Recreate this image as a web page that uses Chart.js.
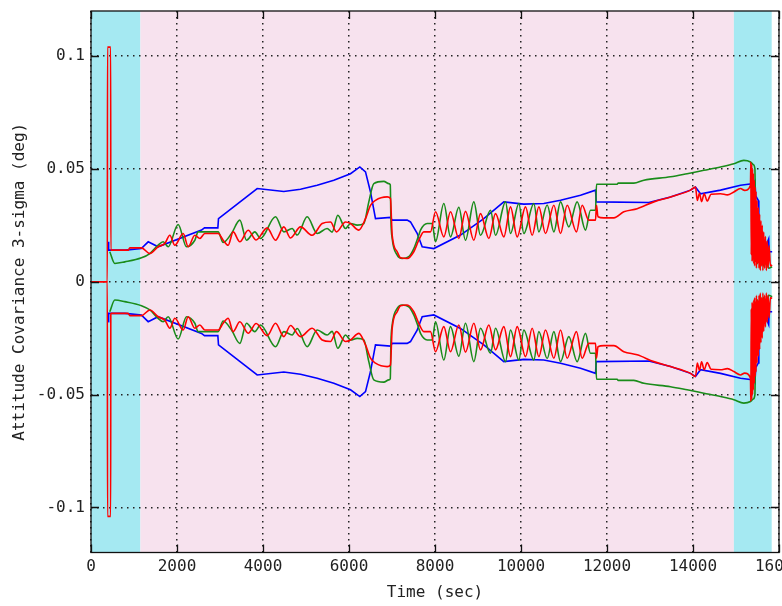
<!DOCTYPE html>
<html>
<head>
<meta charset="utf-8">
<title>Attitude Covariance 3-sigma</title>
<script src="https://cdn.jsdelivr.net/npm/chart.js@4.4.0/dist/chart.umd.min.js"></script>
<style>
  html, body { margin: 0; padding: 0; background: #fff; overflow: hidden; }
</style>
</head>
<body>
<canvas id="sigmaChart" width="782" height="606"></canvas>
<script>
// tick labels
const timeTicks = [0, 2000, 4000, 6000, 8000, 10000, 12000, 14000, 16000];
const sigmaTicks = [-0.1, -0.05, 0, 0.05, 0.1];

// mission phase shading (sec): cyan, pink, cyan
const phaseEdges = [0, 1150, 14950, 15830];
const phaseColors = ['#a5e9f2', '#f7e2ee', '#a5e9f2'];

// blue axis 3-sigma (deg), upper bound; lower bound is its mirror
const blueTime = [400, 410, 790, 1170, 1330, 1560, 2570, 2640, 2950, 2965, 3865, 4484, 4872, 5260, 5647, 6035, 6252, 6384, 6500, 6616, 6964, 7004, 7353, 7430, 7585, 7702, 7973, 8593, 9135, 9600, 10065, 10530, 10919, 11384, 11733, 11750, 12972, 13477, 13942, 14058, 14174, 14640, 15105, 15415, 15440, 15460, 15520, 15531, 15545, 15565, 15600, 15700, 15760, 15770, 15841];
const blueSigma = [0.0177, 0.014, 0.014, 0.0147, 0.0177, 0.0155, 0.0229, 0.0239, 0.0239, 0.028, 0.0413, 0.040, 0.041, 0.0428, 0.045, 0.0479, 0.0509, 0.0487, 0.0398, 0.028, 0.0285, 0.0273, 0.0273, 0.0265, 0.0215, 0.0155, 0.0147, 0.0207, 0.028, 0.0354, 0.0344, 0.0347, 0.0361, 0.0383, 0.0406, 0.0354, 0.0351, 0.0376, 0.0406, 0.042, 0.039, 0.0406, 0.0428, 0.0435, 0.0445, 0.038, 0.036, 0.028, 0.019, 0.024, 0.018, 0.016, 0.019, 0.0133, 0.0133];

// green axis
const greenTime = [437, 553, 786, 1174, 1368, 1562, 1678, 1795, 2027, 2221, 2415, 2492, 2957, 3074, 3268, 3461, 3616, 3810, 3942, 4291, 4484, 4678, 4795, 5027, 5260, 5492, 5607, 5740, 5919, 6035, 6190, 6345, 6461, 6577, 6810, 6926, 6960, 6975, 7004, 7121, 7237, 7392, 7507, 7623, 7663, 7818, 7934, 8012, 8205, 8360, 8554, 8709, 8903, 9058, 9291, 9407, 9640, 9756, 9950, 10066, 10298, 10415, 10609, 10764, 10919, 11112, 11306, 11500, 11616, 11733, 11756, 12237, 12260, 12624, 12857, 13477, 13864, 14252, 14640, 14950, 15181, 15337, 15400, 15440, 15460, 15480, 15500, 15530, 15560, 15600, 15640, 15700, 15760, 15841];
const greenSigma = [0.0133, 0.0081, 0.0088, 0.0106, 0.0125, 0.0162, 0.0177, 0.0155, 0.0254, 0.0155, 0.0184, 0.0221, 0.0221, 0.0174, 0.0214, 0.0273, 0.0184, 0.0221, 0.0192, 0.0288, 0.0221, 0.0236, 0.0207, 0.0288, 0.0214, 0.0236, 0.022, 0.0295, 0.0236, 0.0258, 0.0251, 0.0258, 0.0354, 0.0435, 0.0445, 0.0435, 0.043, 0.027, 0.0192, 0.0118, 0.0103, 0.0111, 0.0147, 0.0207, 0.0229, 0.0258, 0.0258, 0.0177, 0.0347, 0.0199, 0.033, 0.0184, 0.0354, 0.0206, 0.0317, 0.0206, 0.0354, 0.0214, 0.0347, 0.0214, 0.0347, 0.0221, 0.034, 0.0221, 0.0354, 0.0243, 0.0354, 0.0229, 0.0317, 0.0317, 0.0432, 0.0432, 0.0437, 0.0437, 0.045, 0.0465, 0.0479, 0.0494, 0.0509, 0.0523, 0.0538, 0.0531, 0.052, 0.050, 0.012, 0.025, 0.008, 0.018, 0.006, 0.012, 0.007, 0.010, 0.006, 0.0066];

// red axis
const redTime = [0, 380, 384, 457, 461, 864, 903, 1174, 1370, 1562, 1717, 1833, 1950, 2144, 2260, 2415, 2531, 2647, 2957, 3074, 3190, 3306, 3461, 3655, 3840, 4097, 4291, 4484, 4640, 4872, 5143, 5376, 5570, 5709, 5919, 6035, 6229, 6384, 6500, 6616, 6888, 6964, 7004, 7121, 7198, 7353, 7507, 7623, 7740, 7895, 8012, 8205, 8360, 8554, 8709, 8903, 9058, 9252, 9407, 9601, 9756, 9911, 10105, 10260, 10415, 10570, 10764, 10919, 11074, 11290, 11422, 11577, 11733, 11756, 11790, 11926, 12159, 12391, 12702, 13089, 13477, 13942, 14058, 14100, 14150, 14200, 14260, 14330, 14420, 14640, 14800, 14950, 15105, 15200, 15337, 15345, 15355, 15365, 15375, 15385, 15395, 15405, 15415, 15425, 15435, 15445, 15455, 15465, 15475, 15490, 15505, 15520, 15535, 15550, 15565, 15580, 15595, 15610, 15625, 15645, 15665, 15685, 15705, 15725, 15745, 15770, 15800, 15841];
const redSigma = [0, 0, 0.104, 0.104, 0.014, 0.014, 0.015, 0.015, 0.0125, 0.0155, 0.017, 0.0206, 0.0162, 0.0214, 0.0155, 0.0206, 0.0192, 0.0214, 0.0214, 0.0184, 0.0162, 0.0221, 0.0177, 0.0228, 0.0185, 0.0239, 0.0184, 0.0243, 0.0194, 0.0243, 0.0206, 0.0258, 0.0265, 0.0221, 0.0265, 0.0258, 0.0229, 0.028, 0.0339, 0.0361, 0.0376, 0.0369, 0.0207, 0.0133, 0.0106, 0.0103, 0.0133, 0.0184, 0.0221, 0.0221, 0.031, 0.0199, 0.031, 0.0192, 0.0312, 0.0184, 0.0302, 0.0192, 0.0302, 0.0199, 0.0332, 0.0199, 0.0332, 0.0206, 0.0332, 0.0214, 0.0339, 0.0214, 0.0339, 0.0221, 0.0339, 0.0273, 0.0273, 0.0339, 0.0288, 0.0283, 0.0283, 0.031, 0.0324, 0.0354, 0.0376, 0.0406, 0.042, 0.036, 0.0392, 0.0355, 0.039, 0.0358, 0.0388, 0.039, 0.0385, 0.0398, 0.0413, 0.0405, 0.0428, 0.053, 0.012, 0.052, 0.009, 0.050, 0.010, 0.048, 0.008, 0.045, 0.007, 0.042, 0.009, 0.040, 0.006, 0.036, 0.008, 0.033, 0.006, 0.030, 0.005, 0.027, 0.007, 0.025, 0.005, 0.022, 0.006, 0.020, 0.005, 0.018, 0.006, 0.016, 0.007, 0.0074];

const toPoints = (ts, vs, sign) => ts.map((t, i) => ({ x: t, y: sign * vs[i] }));

// blue is piecewise straight, red and green wave smoothly
const series = [
  { time: redTime, sigma: redSigma, color: '#ff0000', smooth: true },
  { time: greenTime, sigma: greenSigma, color: '#1a8c1a', smooth: true },
  { time: blueTime, sigma: blueSigma, color: '#0000ff', smooth: false }
];

const datasets = [];
series.forEach(s => {
  [1, -1].forEach(sign => {
    datasets.push({
      data: toPoints(s.time, s.sigma, sign),
      borderColor: s.color,
      borderWidth: 1.6,
      pointRadius: 0,
      fill: false,
      tension: 0,
      cubicInterpolationMode: s.smooth ? 'monotone' : 'default'
    });
  });
});

// shaded phases behind the grid
const phaseBands = {
  id: 'phaseBands',
  beforeDraw(chart) {
    const { ctx, chartArea: a, scales: { x } } = chart;
    ctx.save();
    for (let i = 0; i < phaseColors.length; i++) {
      const x0 = x.getPixelForValue(phaseEdges[i]);
      const x1 = x.getPixelForValue(phaseEdges[i + 1]);
      ctx.fillStyle = phaseColors[i];
      ctx.fillRect(x0, a.top, x1 - x0, a.bottom - a.top);
    }
    ctx.restore();
  }
};

// box frame with inward tick marks on all four sides
const frameTicks = {
  id: 'frameTicks',
  afterDraw(chart) {
    const { ctx, chartArea: a, scales: { x, y } } = chart;
    const len = 8;
    ctx.save();
    ctx.strokeStyle = '#111';
    ctx.lineWidth = 1.3;
    ctx.strokeRect(a.left, a.top, a.right - a.left, a.bottom - a.top);
    ctx.beginPath();
    timeTicks.forEach(v => {
      const px = Math.round(x.getPixelForValue(v)) + 0.5;
      ctx.moveTo(px, a.bottom); ctx.lineTo(px, a.bottom - len);
      ctx.moveTo(px, a.top); ctx.lineTo(px, a.top + len);
    });
    sigmaTicks.forEach(v => {
      const py = Math.round(y.getPixelForValue(v)) + 0.5;
      ctx.moveTo(a.left, py); ctx.lineTo(a.left + len, py);
      ctx.moveTo(a.right, py); ctx.lineTo(a.right - len, py);
    });
    ctx.stroke();
    ctx.restore();
  }
};

const font = { family: 'DejaVu Sans Mono', size: 16 };
Chart.defaults.font.family = 'DejaVu Sans Mono';

new Chart(document.getElementById('sigmaChart').getContext('2d'), {
  type: 'line',
  data: { datasets },
  options: {
    responsive: false,
    animation: false,
    events: [],
    layout: { padding: { top: 11, right: 3, left: 0, bottom: 0 } },
    plugins: { legend: { display: false }, tooltip: { enabled: false } },
    scales: {
      x: {
        type: 'linear',
        min: 0,
        max: 16000,
        afterBuildTicks: s => { s.ticks = timeTicks.map(v => ({ value: v })); },
        afterFit: s => { s.paddingLeft = 0; s.paddingRight = 0; s.height = 53.5; },
        grid: { color: '#222', lineWidth: 1.5, drawTicks: false },
        border: { display: false, dash: [1.5, 4.5] },
        ticks: { color: '#222', font, padding: 5, maxRotation: 0, autoSkip: false, callback: v => String(v) },
        title: { display: true, text: 'Time (sec)', color: '#222', font, padding: { top: 0, bottom: 4 } }
      },
      y: {
        min: -0.12,
        max: 0.12,
        afterBuildTicks: s => { s.ticks = sigmaTicks.map(v => ({ value: v })); },
        afterFit: s => { s.width = 91; s.paddingTop = 0; s.paddingBottom = 0; },
        grid: { color: '#222', lineWidth: 1.5, drawTicks: false },
        border: { display: false, dash: [1.5, 4.5] },
        ticks: { color: '#222', font, padding: 6, callback: v => String(v) },
        title: { display: true, text: 'Attitude Covariance 3-sigma (deg)', color: '#222', font, padding: { top: 10, bottom: 0 } }
      }
    }
  },
  plugins: [phaseBands, frameTicks]
});
</script>
</body>
</html>
